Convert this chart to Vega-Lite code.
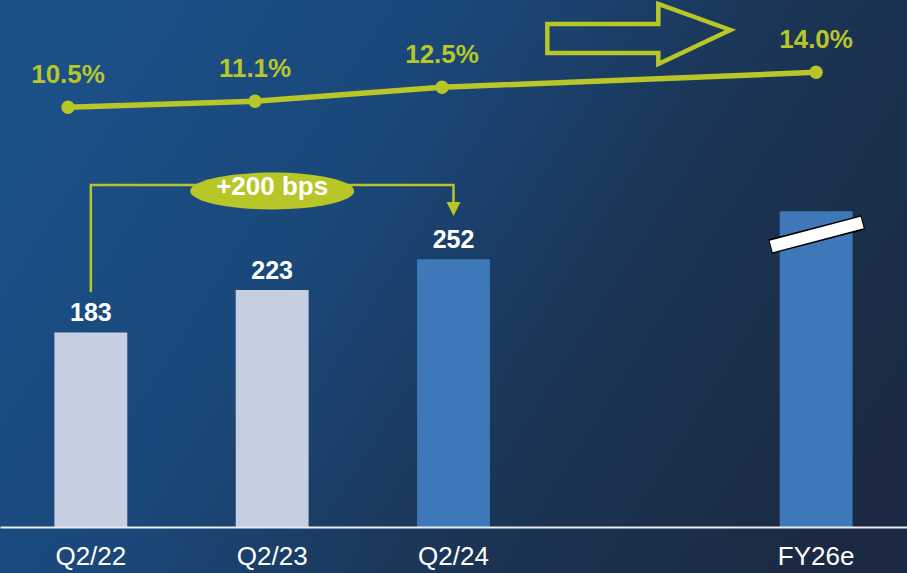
{
  "$schema": "https://vega.github.io/schema/vega-lite/v6.json",
  "width": 907,
  "height": 573,
  "autosize": "none",
  "padding": 0,
  "background": "#1b3b62",
  "config": {
    "font": "Liberation Sans",
    "view": {
      "stroke": null,
      "fill": {
        "gradient": "linear",
        "x1": 0, "y1": 0.3, "x2": 1, "y2": 0.7,
        "stops": [
          {"offset": 0, "color": "#1b5088"},
          {"offset": 0.35, "color": "#1a4778"},
          {"offset": 0.65, "color": "#1b3556"},
          {"offset": 1, "color": "#1b2a42"}
        ]
      }
    }
  },
  "datasets": {
    "bars": [
      {"period": "Q2/22", "value": 183, "group": "prior", "label": "183"},
      {"period": "Q2/23", "value": 223, "group": "prior", "label": "223"},
      {"period": "Q2/24", "value": 252, "group": "current", "label": "252"},
      {"period": "FY26e", "value": 297, "group": "current", "label": ""}
    ],
    "margin": [
      {"period": "Q2/22", "margin": 10.5, "label": "10.5%"},
      {"period": "Q2/23", "margin": 11.1, "label": "11.1%"},
      {"period": "Q2/24", "margin": 12.5, "label": "12.5%"},
      {"period": "FY26e", "margin": 14.0, "label": "14.0%"}
    ],
    "bracket": [
      {"period": "Q2/22", "level": 221.1, "step": 1},
      {"period": "Q2/22", "level": 321.7, "step": 2},
      {"period": "Q2/24", "level": 321.7, "step": 3},
      {"period": "Q2/24", "level": 303.9, "step": 4}
    ],
    "note": [
      {"text": "+200 bps"}
    ]
  },
  "layer": [
    {
      "encoding": {
        "x": {
          "field": "period",
          "type": "ordinal",
          "scale": {"type": "band", "domain": ["Q2/22", "Q2/23", "Q2/24", " ", "FY26e"], "paddingInner": 0.598, "paddingOuter": 0.3},
          "axis": {
            "title": null, "offset": -46, "zindex": 1, "ticks": false, "grid": false,
            "domainColor": "#e9edf3", "domainWidth": 2,
            "labelColor": "#ffffff", "labelFontSize": 26, "labelFont": "Liberation Sans",
            "labelBaseline": "alphabetic", "labelPadding": 37, "labelAngle": 0
          }
        }
      },
      "layer": [
        {
          "data": {"name": "bars"},
          "mark": {"type": "bar"},
          "encoding": {
            "y": {"field": "value", "type": "quantitative", "scale": {"domain": [-43.27, 495.77], "nice": false, "zero": false}, "axis": null},
            "color": {"field": "group", "type": "nominal", "scale": {"domain": ["prior", "current"], "range": ["#c5cfe1", "#3e78b8"]}, "legend": null}
          }
        },
        {
          "data": {"name": "bars"},
          "mark": {"type": "text", "color": "#ffffff", "fontSize": 25, "fontWeight": "bold", "baseline": "alphabetic", "dy": -11},
          "encoding": {
            "y": {"field": "value", "type": "quantitative"},
            "text": {"field": "label"}
          }
        },
        {
          "data": {"name": "note"},
          "mark": {"type": "rule", "color": "#000000", "strokeWidth": 15, "xOffset": -46, "x2Offset": 47},
          "encoding": {
            "x": {"datum": "FY26e"}, "x2": {"datum": "FY26e"},
            "y": {"datum": 263.9}, "y2": {"datum": 286.5}
          }
        },
        {
          "data": {"name": "note"},
          "mark": {"type": "rule", "color": "#ffffff", "strokeWidth": 12, "xOffset": -45, "x2Offset": 46},
          "encoding": {
            "x": {"datum": "FY26e"}, "x2": {"datum": "FY26e"},
            "y": {"datum": 263.9}, "y2": {"datum": 286.5}
          }
        },
        {
          "data": {"name": "bracket"},
          "mark": {"type": "line", "color": "#b8c628", "strokeWidth": 2.5, "strokeCap": "butt"},
          "encoding": {
            "y": {"field": "level", "type": "quantitative"},
            "order": {"field": "step", "type": "quantitative"}
          }
        },
        {
          "data": {"name": "note"},
          "mark": {"type": "point", "shape": "M-1,-1L1,-1L0,1Z", "size": 196, "filled": true, "opacity": 1, "color": "#b8c628"},
          "encoding": {"x": {"datum": "Q2/24"}, "y": {"datum": 299.2}}
        },
        {
          "data": {"name": "note"},
          "mark": {"type": "point", "shape": "M-1,0C-1,-0.1243,-0.5523,-0.225,0,-0.225C0.5523,-0.225,1,-0.1243,1,0C1,0.1243,0.5523,0.225,0,0.225C-0.5523,0.225,-1,0.1243,-1,0Z", "size": 26896, "filled": true, "opacity": 1, "color": "#b8c628"},
          "encoding": {"x": {"datum": "Q2/23"}, "y": {"datum": 316.1}}
        },
        {
          "data": {"name": "note"},
          "mark": {"type": "text", "color": "#ffffff", "fontSize": 26, "fontWeight": "bold", "baseline": "alphabetic", "dy": 4},
          "encoding": {"x": {"datum": "Q2/23"}, "y": {"datum": 316.1}, "text": {"field": "text"}}
        },
        {
          "data": {"name": "note"},
          "mark": {"type": "point", "shape": "M-1,-0.109L0.213,-0.109L0.213,-0.328L1,-0.044L0.213,0.328L0.213,0.208L-1,0.208Z", "size": 33489, "filled": false, "opacity": 1, "color": "#b8c628", "strokeWidth": 4.5, "xOffset": 4},
          "encoding": {"x": {"datum": " "}, "y": {"datum": 463.8}}
        }
      ]
    },
    {
      "data": {"name": "margin"},
      "encoding": {
        "x": {
          "field": "period", "type": "ordinal",
          "scale": {"type": "point", "domain": ["Q2/22", "Q2/23", "Q2/24", " ", "FY26e"], "padding": 0.425, "align": 0.428},
          "axis": null
        },
        "y": {"field": "margin", "type": "quantitative", "scale": {"domain": [-36.07, 21.23], "nice": false, "zero": false}, "axis": null}
      },
      "layer": [
        {"mark": {"type": "line", "color": "#b8c628", "strokeWidth": 5.5}},
        {"mark": {"type": "circle", "color": "#b8c628", "size": 180, "opacity": 1}},
        {
          "mark": {"type": "text", "color": "#b8c628", "fontSize": 26, "fontWeight": "bold", "baseline": "alphabetic", "dy": -24},
          "encoding": {"text": {"field": "label"}}
        }
      ]
    }
  ],
  "resolve": {"scale": {"x": "independent", "y": "independent"}}
}
